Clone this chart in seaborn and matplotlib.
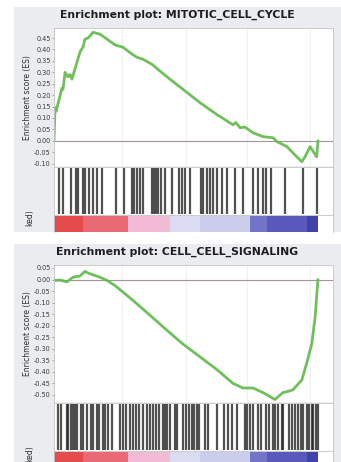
import numpy as np
import pandas as pd
import matplotlib
matplotlib.use("Agg")
import matplotlib.pyplot as plt
import seaborn as sns
from matplotlib.colors import LinearSegmentedColormap
from matplotlib.patches import Rectangle

sns.set_theme(style="white")
plt.rcParams["font.family"] = ["DejaVu Sans"]

# ---- data -------------------------------------------------------------
N_GENES = 1000

# running enrichment score, MITOTIC_CELL_CYCLE
mitotic_rank = [0, 4, 8, 30, 34, 42, 53, 61, 68, 91, 99, 110, 117, 129, 148,
                174, 201, 231, 261, 295, 314, 337, 371, 428, 489, 553, 617,
                678, 689, 705, 723, 754, 792, 830, 845, 883, 905, 939, 951,
                970, 995, 1000]
mitotic_es = [0.0, 0.145, 0.13, 0.23, 0.225, 0.30, 0.28, 0.29, 0.27, 0.36,
              0.39, 0.41, 0.445, 0.45, 0.475, 0.467, 0.445, 0.42, 0.41, 0.38,
              0.366, 0.357, 0.335, 0.28, 0.225, 0.167, 0.115, 0.07, 0.08,
              0.057, 0.06, 0.035, 0.018, 0.013, -0.004, -0.026, -0.053,
              -0.092, -0.07, -0.026, -0.07, 0.0]
mitotic_hits = [20, 35, 63, 83, 92, 111, 117, 134, 149, 164, 181, 235, 265,
                294, 303, 316, 326, 336, 370, 379, 386, 395, 404, 420, 446,
                475, 484, 496, 515, 556, 566, 581, 591, 604, 616, 635, 654,
                686, 717, 755, 774, 793, 803, 824, 875, 944, 995]
mitotic_yticks = [0.45, 0.40, 0.35, 0.30, 0.25, 0.20, 0.15, 0.10, 0.05, 0.00,
                  -0.05, -0.10]

# running enrichment score, CELL_CELL_SIGNALING
signaling_rank = [0, 4, 23, 49, 72, 98, 117, 136, 174, 201, 231, 299, 364,
                  428, 489, 553, 617, 678, 716, 754, 792, 818, 837, 867, 886,
                  905, 939, 958, 977, 989, 1000]
signaling_es = [0.0, -0.004, -0.002, -0.01, 0.01, 0.015, 0.035, 0.025, 0.01,
                -0.004, -0.026, -0.09, -0.155, -0.22, -0.28, -0.335, -0.39,
                -0.45, -0.47, -0.47, -0.49, -0.507, -0.52, -0.49, -0.485,
                -0.478, -0.435, -0.36, -0.276, -0.164, 0.0]
signaling_hits = [16, 28, 48, 54, 63, 71, 79, 88, 104, 111, 124, 139, 146,
                  162, 172, 184, 193, 206, 218, 250, 260, 273, 288, 301, 311,
                  323, 338, 354, 364, 376, 386, 399, 412, 420, 429, 439, 458,
                  467, 487, 500, 513, 521, 530, 540, 551, 572, 585, 616, 644,
                  660, 673, 692, 723, 732, 742, 753, 774, 786, 803, 816, 831,
                  837, 850, 862, 869, 891, 900, 913, 926, 934, 944, 957, 967,
                  976, 982, 992, 999]
signaling_yticks = [0.05, 0.00, -0.05, -0.10, -0.15, -0.20, -0.25, -0.30,
                    -0.35, -0.40, -0.45, -0.50]

# ranked list metric, summarised in blocks along the list
metric_edges = [0, 110, 280, 439, 553, 742, 807, 958, 1000]
metric_values = [0.95, 0.75, 0.40, 0.10, -0.15, -0.55, -0.75, -0.95]

# ---- drawing ----------------------------------------------------------
W, H = 341, 462
fig = plt.figure(figsize=(W / 100, H / 100), dpi=100)
fig.patch.set_facecolor("white")

metric_cmap = LinearSegmentedColormap.from_list(
    "metric",
    [(0.0, "#3c3ca6"), (0.12, "#5858bc"), (0.25, "#7a7acc"),
     (0.40, "#cacaec"), (0.55, "#dcdcf2"), (0.70, "#f2bcd8"),
     (0.87, "#ea6c78"), (1.0, "#e24444")])

XMAX = 1057
GREEN = "#5fba4a"
SPINE = "#c4c4c4"


def px_axes(x0, y0, x1, y1):
    return fig.add_axes([x0 / W, 1 - y1 / H, (x1 - x0) / W, (y1 - y0) / H])


def panel(top, title, rank, es, hits, yticks, ylim, es_bottom):
    # grey panel background
    fig.patches.append(Rectangle((14 / W, 1 - (top + 225) / H), (W - 14) / W,
                                 225 / H, transform=fig.transFigure,
                                 facecolor="#eaecef", edgecolor="none",
                                 zorder=-10))
    fig.text(177.5 / W, 1 - (top + 8) / H, title, ha="center", va="center",
             fontsize=7.8, fontweight="bold", color="#1e1e1e")

    es_top = top + 21
    ax = px_axes(54, es_top, 333, es_bottom)
    df = pd.DataFrame({"rank": rank, "es": es})
    sns.lineplot(data=df, x="rank", y="es", ax=ax, color=GREEN, lw=2.0,
                 alpha=0.9, legend=False)
    ax.axhline(0, color="#a49494", lw=0.8, zorder=1)
    ax.axhline(ylim[0] + 0.006, color="#d2d2d2", lw=0.6, ls=(0, (1, 1.5)))
    for gx in (258, 500, 731, 970):
        ax.axvline(gx, color="#f1f1f3", lw=0.8, zorder=0)
    ax.set_xlim(0, XMAX)
    ax.set_ylim(*ylim)
    ax.set_yticks(yticks)
    ax.set_yticklabels([f"{v:.2f}" for v in yticks], fontsize=4.7,
                       color="#3a3a3a")
    ax.set_xticks([])
    ax.set_xlabel("")
    ax.set_ylabel("")
    ax.tick_params(axis="y", length=1.5, width=0.5, pad=1, color="#888888",
                   left=True)
    for s in ax.spines.values():
        s.set_color(SPINE)
        s.set_linewidth(0.6)
    ax.set_facecolor("white")
    fig.text(28 / W, 1 - (es_top + es_bottom) / 2 / H,
             "Enrichment score (ES)", rotation=90, ha="center", va="center",
             fontsize=5.5, color="#303030")

    # hit positions of the gene set in the ranked list
    hit_bottom = es_bottom + 48
    axh = px_axes(54, es_bottom, 333, hit_bottom)
    axh.vlines(hits, 0.02, 0.98, color="#262626", lw=1.6, alpha=0.8)
    axh.set_xlim(0, XMAX)
    axh.set_ylim(0, 1)
    axh.set_xticks([])
    axh.set_yticks([])
    for s in axh.spines.values():
        s.set_color(SPINE)
        s.set_linewidth(0.6)
    axh.set_facecolor("white")

    # ranked list metric colour strip
    axs = px_axes(54, hit_bottom, 333, top + 225)
    ranks = np.arange(N_GENES)
    block = np.searchsorted(metric_edges, ranks, side="right") - 1
    strip = np.array(metric_values)[block][None, :]
    axs.imshow(strip, cmap=metric_cmap, vmin=-1, vmax=1, aspect="auto",
               extent=(0, N_GENES, 0, 1), interpolation="nearest")
    axs.set_xlim(0, XMAX)
    axs.set_ylim(0, 1.12)
    axs.set_xticks([])
    axs.set_yticks([])
    for s in axs.spines.values():
        s.set_color(SPINE)
        s.set_linewidth(0.6)
    axs.spines["bottom"].set_visible(False)
    axs.set_facecolor("white")
    fig.text(30 / W, 1 - (hit_bottom - 6) / H, "ked)", rotation=90,
             ha="center", va="top", fontsize=5.5, color="#303030")


panel(7, "Enrichment plot: MITOTIC_CELL_CYCLE", mitotic_rank, mitotic_es,
      mitotic_hits, mitotic_yticks, (-0.115, 0.494), 167)
panel(244, "Enrichment plot: CELL_CELL_SIGNALING", signaling_rank,
      signaling_es, signaling_hits, signaling_yticks, (-0.535, 0.063), 403)

fig.savefig("out.png", dpi=100, facecolor="white")
